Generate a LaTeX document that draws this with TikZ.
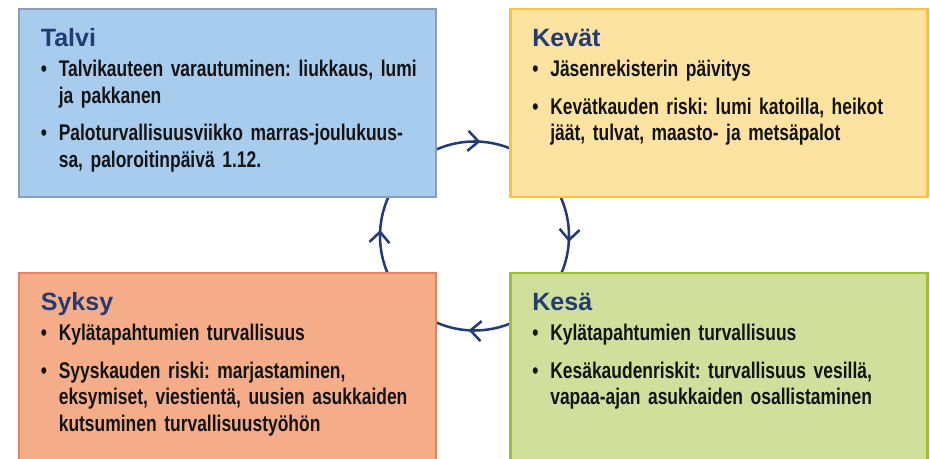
\documentclass[tikz,border=0pt]{standalone}
\usepackage{fontspec}
\setmainfont{Liberation Sans}
\newfontfamily\kapea{Liberation Sans}[FakeStretch=0.77]
\usetikzlibrary{arrows.meta,decorations.markings}

\definecolor{tumma}{HTML}{243B74}
\definecolor{teksti}{HTML}{141414}
\definecolor{talvitausta}{HTML}{A8CCEE}
\definecolor{talvireuna}{HTML}{8C9CBD}
\definecolor{kevattausta}{HTML}{FDE3A1}
\definecolor{kevatreuna}{HTML}{FCC43C}
\definecolor{syksytausta}{HTML}{F5AD89}
\definecolor{syksyreuna}{HTML}{F07E5D}
\definecolor{kesatausta}{HTML}{D0DF9C}
\definecolor{kesareuna}{HTML}{9BC42A}

\newcommand{\kohta}[1]{\noindent\hangindent=13.5pt\hangafter=1\makebox[13.5pt][l]{\textbullet}#1\par}
\newcommand{\kohtavali}{\vspace{8.25pt}}

\tikzset{
    kausi/.style={draw, line width=2.2pt, minimum width=312.75pt, minimum height=141pt, inner sep=0pt},
    otsikko/.style={anchor=base west, inner sep=0pt, text=tumma, font=\bfseries\fontsize{18.8pt}{22pt}\selectfont},
    lista/.style={anchor=base west, inner sep=0pt, text=teksti, text width=300pt, align=left,
        font=\kapea\bfseries\frenchspacing\fontsize{17pt}{20pt}\selectfont},
    kierto/.style={draw=tumma, line width=1.9pt, postaction={decorate},
        decoration={markings, mark=between positions 0.135 and 0.9 step 0.25 with {\arrow{Straight Barb[length=8pt,width=15pt]}}}}
}

\begin{document}
\begin{tikzpicture}[x=0.75pt, y=0.75pt]
    \clip (0,0) rectangle (930,459);

    \coordinate (keskus) at (474.5,223);
    \draw[kierto] (keskus) ++(45:94.5) arc[start angle=45, end angle=-315, radius=94.5];

    \node[kausi, fill=talvitausta, draw=talvireuna] (talvi) at (227.5,356) {};
    \node[kausi, fill=kevattausta, draw=kevatreuna] (kevat) at (719,356) {};
    \node[kausi, fill=syksytausta, draw=syksyreuna] (syksy) at (227.5,92) {};
    \node[kausi, fill=kesatausta, draw=kesareuna] (kesa) at (719,92) {};

    \node[otsikko] (talviotsikko) at ([shift={(23,-39)}]talvi.north west) {Talvi};
    \node[lista] (talvilista) at ([shift={(0,-30)}]talviotsikko.base west) {%
        \kohta{Talvikauteen varautuminen: liukkaus, lumi\newline ja pakkanen}
        \kohtavali
        \kohta{Paloturvallisuusviikko marras-joulukuus-\newline sa, paloroitinpäivä 1.12.}};

    \node[otsikko] (kevatotsikko) at ([shift={(23,-39)}]kevat.north west) {Kevät};
    \node[lista] (kevatlista) at ([shift={(0,-30)}]kevatotsikko.base west) {%
        \kohta{Jäsenrekisterin päivitys}
        \kohtavali
        \kohta{Kevätkauden riski: lumi katoilla, heikot\newline jäät, tulvat, maasto- ja metsäpalot}};

    \node[otsikko] (syksyotsikko) at ([shift={(23,-39)}]syksy.north west) {Syksy};
    \node[lista] (syksylista) at ([shift={(0,-30)}]syksyotsikko.base west) {%
        \kohta{Kylätapahtumien turvallisuus}
        \kohtavali
        \kohta{Syyskauden riski: marjastaminen,\newline eksymiset, viestientä, uusien asukkaiden\newline kutsuminen turvallisuustyöhön}};

    \node[otsikko] (kesaotsikko) at ([shift={(23,-39)}]kesa.north west) {Kesä};
    \node[lista] (kesalista) at ([shift={(0,-30)}]kesaotsikko.base west) {%
        \kohta{Kylätapahtumien turvallisuus}
        \kohtavali
        \kohta{Kesäkaudenriskit: turvallisuus vesillä,\newline vapaa-ajan asukkaiden osallistaminen}};
\end{tikzpicture}
\end{document}
